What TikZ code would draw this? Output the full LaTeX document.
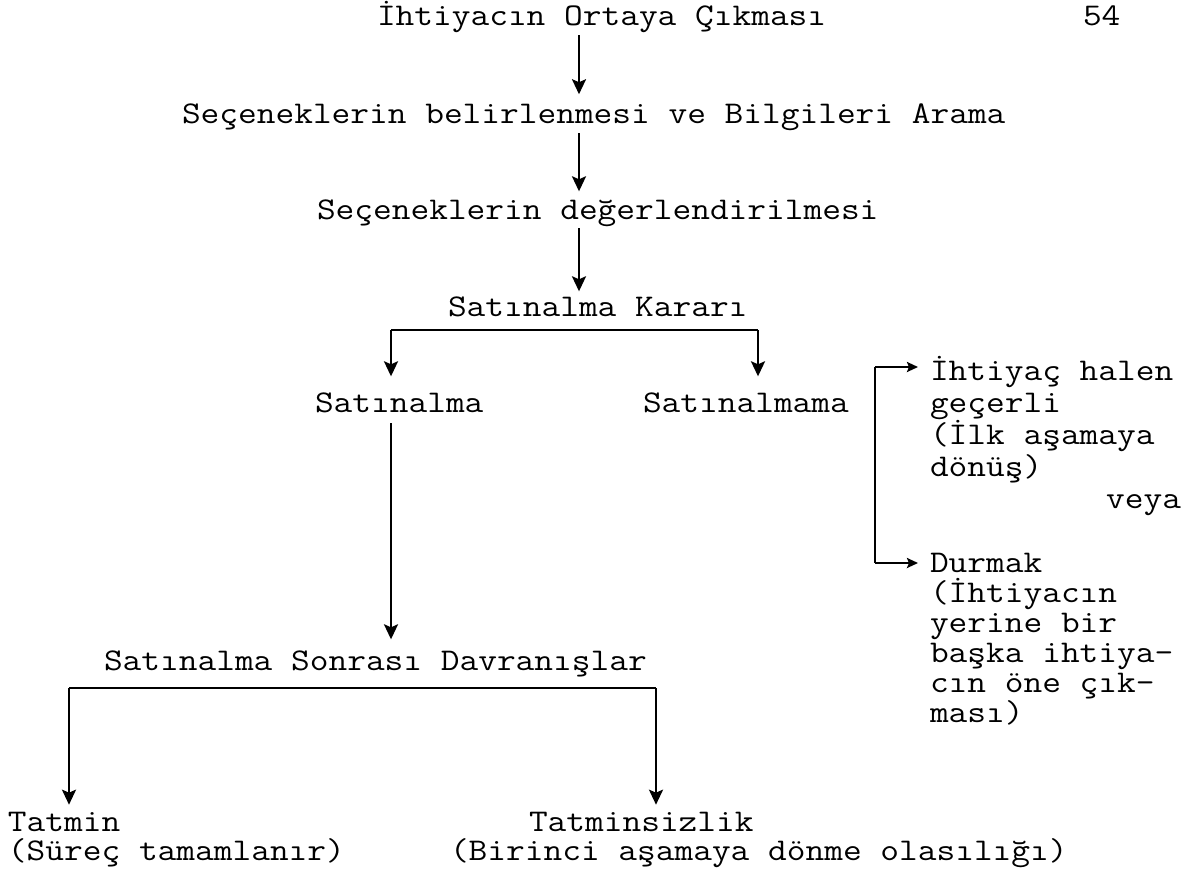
\documentclass[tikz,border=0pt]{standalone}
\usepackage{fontspec}
\newfontfamily\tw{Latin Modern Mono}[FakeStretch=1.15]
\usetikzlibrary{arrows.meta}
\tikzset{
  txt/.style={anchor=base west, inner sep=0pt, outer sep=0pt, font=\tw\fontsize{31.6}{32}\selectfont},
  txte/.style={txt, anchor=base east},
  ln/.style={line width=2.4pt, black},
  arr/.style={ln, -{Stealth[length=15pt,width=14pt,inset=3pt]}},
  sarr/.style={ln, -{Stealth[length=11pt,width=10pt,inset=2pt]}}
}
\begin{document}
\begin{tikzpicture}[x=1pt,y=-1pt]
\fill[white] (0,0) rectangle (1199,875);
\useasboundingbox (0,0) rectangle (1199,875);

% texts
\node[txt] (n1) at (377,26) {İhtiyacın Ortaya Çıkması};
\node[txt] (p54) at (1083,26) {54};
\node[txt] (n2) at (182,123) {Seçeneklerin belirlenmesi ve Bilgileri Arama};
\node[txt] (n3) at (317,219) {Seçeneklerin değerlendirilmesi};
\node[txt] (n4) at (448,316) {Satınalma Kararı};
\node[txt] (n5) at (315,412) {Satınalma};
\node[txt] (n6) at (643,412) {Satınalmama};

\node[txt] (r1a) at (930,380) {İhtiyaç halen};
\node[txt] (r1b) at (930,412) {geçerli};
\node[txt] (r1c) at (930,444) {(İlk aşamaya};
\node[txt] (r1d) at (930,476) {dönüş)};
\node[txte] (veya) at (1181,508) {veya};

\node[txt] (r2a) at (930,572) {Durmak};
\node[txt] (r2b) at (930,602) {(İhtiyacın};
\node[txt] (r2c) at (930,632) {yerine bir};
\node[txt] (r2d) at (930,662) {başka ihtiya-};
\node[txt] (r2e) at (930,692) {cın öne çık-};
\node[txt] (r2f) at (930,722) {ması)};

\node[txt] (n7) at (104,670) {Satınalma Sonrası Davranışlar};
\node[txt] (n8) at (8,831) {Tatmin};
\node[txt] (n8b) at (8,860) {(Süreç tamamlanır)};
\node[txt] (n9) at (529,831) {Tatminsizlik};
\node[txt] (n9b) at (450,860) {(Birinci aşamaya dönme olasılığı)};

% main spine
\coordinate (cx) at (579,0);
\draw[arr] ([yshift=-2pt]cx |- n1.south) -- ([yshift=9pt]cx |- n2.north);
\draw[arr] ([yshift=-3pt]cx |- n2.south) -- ([yshift=8pt]cx |- n3.north);
\draw[arr] ([yshift=-2pt]cx |- n3.south) -- ([yshift=5pt]cx |- n4.north);

% first branch
\coordinate (j1) at (391,330);
\coordinate (j2) at (758,330);
\draw[ln] (j1) -- (j2);
\draw[arr] (j1) -- ([yshift=16pt]j1 |- n5.north);
\draw[arr] (j2) -- ([yshift=16pt]j2 |- n6.north);

% Satinalma down
\draw[arr] ([yshift=-11pt]j1 |- n5.south) -- ([yshift=11pt]j1 |- n7.north);

% second branch
\coordinate (k1) at (69,688);
\coordinate (k2) at (656,688);
\draw[ln] (k1) -- (k2);
\draw[arr] (k1) -- ([yshift=7pt]k1 |- n8.north);
\draw[arr] (k2) -- ([yshift=7pt]k2 |- n9.north);

% right bracket
\coordinate (b1) at (875,367);
\coordinate (b2) at (875,563);
\draw[ln] (b1) -- (b2);
\draw[sarr] (b1) -- ([xshift=-12pt]b1 -| r1a.west);
\draw[sarr] (b2) -- ([xshift=-12pt]b2 -| r2a.west);
\end{tikzpicture}
\end{document}
